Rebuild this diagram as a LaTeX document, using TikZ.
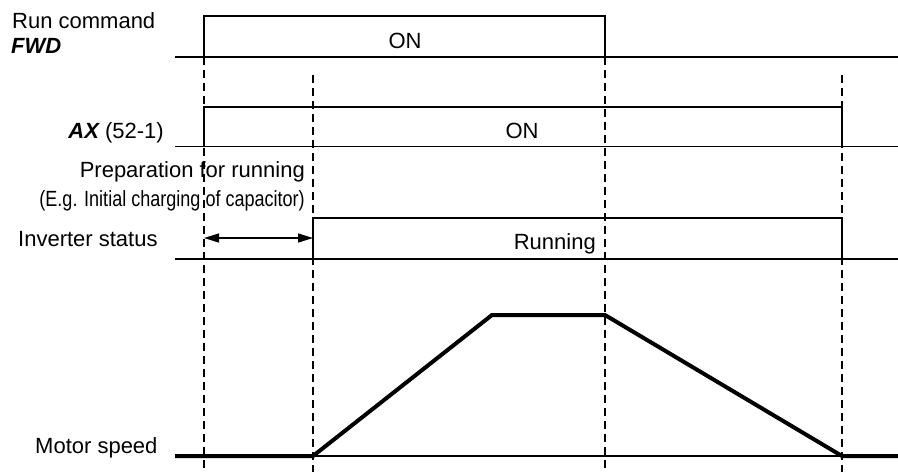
\documentclass[tikz,border=0pt]{standalone}
\usepackage{fontspec}
\setmainfont{Liberation Sans}
\usetikzlibrary{arrows.meta}
\begin{document}
\begin{tikzpicture}[x=1pt,y=-1pt,
  lbl/.style={inner sep=0pt,font=\fontsize{22}{26}\selectfont},
  sig/.style={line width=1.4pt,line join=miter},
  guide/.style={line width=1.3pt,dash pattern=on 8pt off 5pt},
  speed/.style={line width=4pt,line join=miter},
  dimarrow/.style={line width=1.4pt,{Triangle[length=15pt,width=9pt]}-{Triangle[length=15pt,width=9pt]}}]
\useasboundingbox (0,0) rectangle (898,472);
% guide lines
\draw[guide] (204,57) -- (204,472);
\draw[guide] (313,75) -- (313,472);
\draw[guide] (605,57) -- (605,472);
\draw[guide] (842,75) -- (842,472);
% FWD
\draw[sig] (175,57) -- (204,57) -- (204,16) -- (605,16) -- (605,57) -- (898,57);
\draw[sig] (204,57) -- (605,57);
% AX
\draw[sig] (175,146.5) -- (204,146.5) -- (204,107) -- (842,107) -- (842,146.5) -- (898,146.5);
\draw[sig] (204,146.5) -- (842,146.5);
% Inverter status
\draw[sig] (175,259) -- (313,259) -- (313,218) -- (842,218) -- (842,259) -- (898,259);
\draw[sig] (313,259) -- (842,259);
\coordinate (a1) at (204,238);
\coordinate (a2) at (313,238);
\draw[dimarrow] (a1) -- (a2);
% Motor speed
\draw[sig] (313,456) -- (842,456);
\coordinate (m0) at (175,456);
\coordinate (m1) at (313,456);
\coordinate (m2) at (492,315);
\coordinate (m3) at (605,315);
\coordinate (m4) at (842,456);
\coordinate (m5) at (898,456);
\draw[speed] (m0) -- (m1) -- (m2) -- (m3) -- (m4) -- (m5);
% labels
\node[lbl,anchor=base west] (run) at (12,28) {Run command};
\node[lbl,anchor=base west] (fwd) at (11,53) {\bfseries\itshape FWD};
\node[lbl,anchor=base] (on1) at (405,48) {ON};
\node[lbl,anchor=base east] (ax) at (164,138) {{\bfseries\itshape AX} (52-1)};
\node[lbl,anchor=base] (on2) at (522,138) {ON};
\node[lbl,anchor=base east] (prep) at (305,177) {Preparation for running};
\node[lbl,anchor=base east] (eg) at (305,206) {\scalebox{0.82}[1]{(E.g. Initial charging of capacitor)}};
\node[lbl,anchor=base west] (inv) at (18,246) {Inverter status};
\node[lbl,anchor=base east] (runn) at (596,249) {Running};
\node[lbl,anchor=base west] (mot) at (35,453) {Motor speed};
\end{tikzpicture}
\end{document}
